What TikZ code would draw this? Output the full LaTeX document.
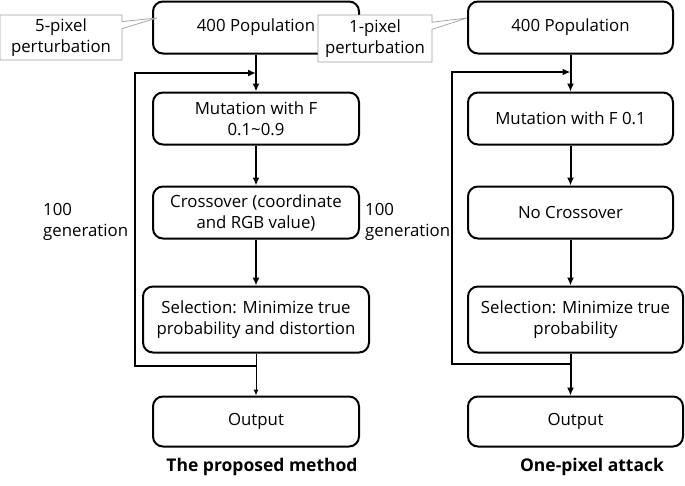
\documentclass[tikz,border=0pt]{standalone}
\usepackage{fontspec}
\setmainfont{Open Sans}
\usetikzlibrary{positioning,arrows.meta,shapes.callouts}

\begin{document}
\begin{tikzpicture}[x=1pt,y=-1pt,
  box/.style={draw, line width=2pt, rounded corners=10pt, minimum width=206pt,
    minimum height=52pt, align=center, inner sep=1pt, font=\fontsize{16.8}{21}\selectfont},
  flow/.style={line width=2pt, -{Latex[length=8pt,width=7pt]}},
  thinflow/.style={line width=1pt, -{Latex[length=6pt,width=5pt]}},
  note/.style={rectangle callout, draw=gray!75, line width=0.7pt, fill=white,
    align=center, inner sep=1pt, font=\fontsize{16.8}{21}\selectfont},
  lbl/.style={align=left, inner sep=0pt, font=\fontsize{16.8}{21}\selectfont},
  caption/.style={inner sep=0pt, font=\fontsize{17.5}{21}\selectfont\bfseries}
]
  \useasboundingbox (0,0) rectangle (685,485);

  % proposed method
  \node[box] (lpop) at (256,27.5) {400 Population};
  \node[box, below=37pt of lpop] (lmut) {Mutation with F\\0.1\textasciitilde0.9};
  \node[box, below=40pt of lmut] (lcro) {Crossover (coordinate\\and RGB value)};
  \node[box, below=46pt of lcro, minimum width=226pt, minimum height=66pt] (lsel)
    {Selection: Minimize true\\probability and distortion};
  \node[box, below=42pt of lsel, minimum height=50pt] (lout) {Output};

  \draw[flow] (lpop) -- (lmut);
  \draw[flow] (lmut) -- (lcro);
  \draw[flow] (lcro) -- (lsel);
  \draw[thinflow] (lsel) -- (lout);

  \coordinate (lback) at (135,366);
  \coordinate (ltop) at (135,73);
  \draw[flow] (lmut |- lback) -- (lback) -- (ltop) -- (lmut |- ltop);
  \node[lbl, anchor=west] (lgen) at (43,222) {100\\generation};

  % one-pixel attack
  \node[box, minimum width=205pt] (rpop) at (570.5,27.5) {400 Population};
  \node[box, minimum width=205pt, below=37pt of rpop] (rmut) {Mutation with F 0.1};
  \node[box, minimum width=205pt, below=40pt of rmut] (rcro) {No Crossover};
  \node[box, below=46pt of rcro, xshift=5pt, minimum width=215pt, minimum height=66pt] (rsel)
    {Selection: Minimize true\\probability};
  \node[box, below=42pt of rsel, minimum width=215pt, minimum height=50pt] (rout) {Output};

  \draw[flow] (rpop) -- (rmut);
  \draw[flow] (rmut) -- (rcro);
  \draw[flow] (rcro.south) -- (rcro.south |- rsel.north);
  \draw[flow] (rmut |- rsel.south) -- (rmut |- rout.north);

  \coordinate (rback) at (452,364);
  \coordinate (rtop) at (452,72);
  \draw[flow] (rmut |- rback) -- (rback) -- (rtop) -- (rmut |- rtop);
  \node[lbl, anchor=west] (rgen) at (365,222) {100\\generation};

  % callouts
  \node[note, minimum width=122pt, minimum height=45pt,
    callout absolute pointer={(157,18)}] (lnote) at (61,37.5) {5-pixel\\perturbation};
  \node[note, minimum width=114pt, minimum height=47pt,
    callout absolute pointer={(467,18)}] (rnote) at (375,38.5) {1-pixel\\perturbation};

  % captions
  \node[caption] (lcap) at (262,467) {The proposed method};
  \node[caption] (rcap) at (592,467) {One-pixel attack};
\end{tikzpicture}
\end{document}
